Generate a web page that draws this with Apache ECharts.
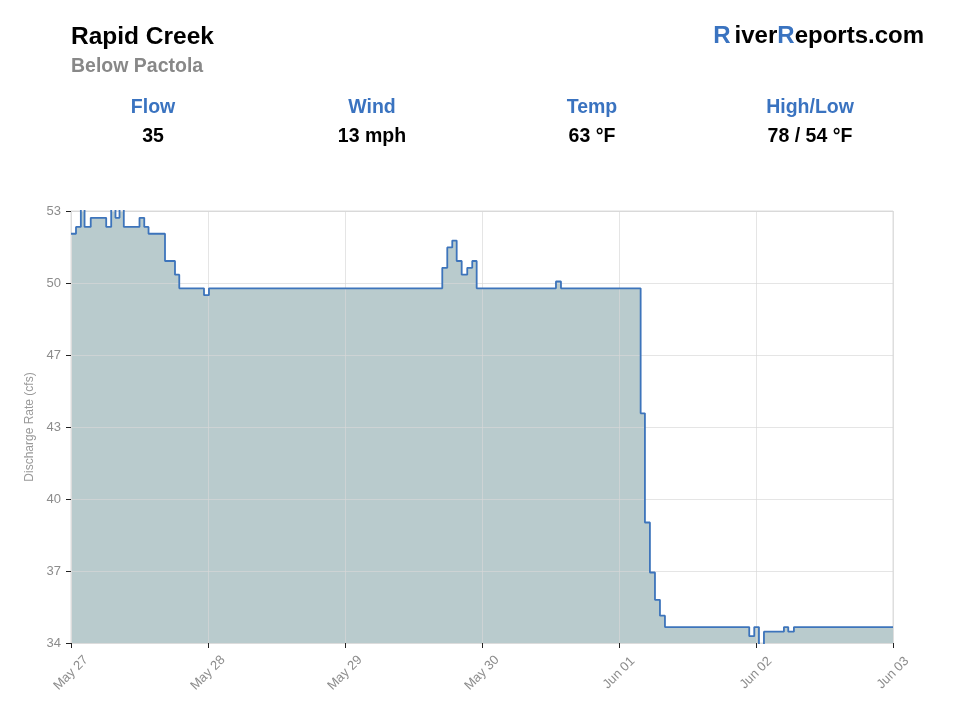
<!DOCTYPE html>
<html>
<head>
<meta charset="utf-8">
<title>Rapid Creek</title>
<script src="https://cdn.jsdelivr.net/npm/echarts@6/dist/echarts.min.js"></script>
<style>
  html, body { margin: 0; padding: 0; background: #fff; }
  #chart { width: 960px; height: 720px; }
</style>
</head>
<body>
<div id="chart"></div>
<script>
// hours since the left edge of the chart, and discharge (cfs) from that moment on
var hours = [0, 1.05, 2.07, 2.85, 4.15, 7.4, 8.45, 9.35, 10.2, 11.1, 14.4, 15.4, 16.3, 19.76, 21.86, 22.76, 27.96, 29.0,
  78.05, 79.1, 80.15, 81.08, 82.13, 83.3, 84.35, 85.28, 101.95, 103.0,
  119.75, 120.65, 121.7, 122.76, 123.81, 124.86, 142.58, 143.63, 144.62, 145.67, 149.87, 150.78, 151.97, 172.8];
var flow = [52.0, 52.3, 53.3, 52.3, 52.7, 52.3, 53.3, 52.7, 53.3, 52.3, 52.7, 52.3, 52.0, 50.8, 50.2, 49.6, 49.3, 49.6,
  50.5, 51.4, 51.7, 50.8, 50.2, 50.5, 50.8, 49.6, 49.9, 49.6,
  44.1, 39.3, 37.1, 35.9, 35.2, 34.7, 34.3, 34.7, 33.9, 34.5, 34.7, 34.5, 34.7, 34.7];

var xLabels = ["May 27", "May 28", "May 29", "May 30", "Jun 01", "Jun 02", "Jun 03"];
var xStep = 28.8;   // hours between the date ticks
var yMin = 34, yMax = 53;

var statNames = ["Flow", "Wind", "Temp", "High/Low"];
var statValues = ["35", "13 mph", "63 °F", "78 / 54 °F"];
var statX = [153, 372, 592, 810];

var blue = '#3a73c0';
var font = '"Liberation Sans", Arial, Helvetica, sans-serif';

var points = [];
for (var i = 0; i < hours.length; i++) {
  points.push([hours[i], flow[i]]);
}

// header texts
var header = [
  { type: 'text', x: 71, y: 37, style: { text: 'Rapid Creek', font: 'bold 24.5px ' + font, fill: '#000', verticalAlign: 'middle' } },
  { type: 'text', x: 71, y: 67, style: { text: 'Below Pactola', font: 'bold 19.5px ' + font, fill: '#888', verticalAlign: 'middle' } },
  { type: 'text', x: 924, y: 36, style: {
      text: '{b|R}{gap|}{k|iver}{b|R}{k|eports.com}',
      align: 'right', verticalAlign: 'middle',
      rich: {
        b: { fontFamily: font, fontWeight: 'bold', fontSize: 24, fill: blue },
        gap: { width: 4 },
        k: { fontFamily: font, fontWeight: 'bold', fontSize: 24, fill: '#000' }
      }
  } }
];
for (var j = 0; j < statNames.length; j++) {
  header.push({ type: 'text', x: statX[j], y: 108, style: { text: statNames[j], font: 'bold 19.5px ' + font, fill: blue, align: 'center', verticalAlign: 'middle' } });
  header.push({ type: 'text', x: statX[j], y: 137, style: { text: statValues[j], font: 'bold 19.5px ' + font, fill: '#000', align: 'center', verticalAlign: 'middle' } });
}

var chart = echarts.init(document.getElementById('chart'));
chart.setOption({
  animation: false,
  textStyle: { fontFamily: font },
  graphic: header,
  grid: { left: 71, right: 67, top: 211, bottom: 77, show: true, borderColor: '#dcdcdc', borderWidth: 1 },
  xAxis: {
    type: 'value',
    min: 0,
    max: xStep * 6,
    interval: xStep,
    z: 3,
    axisLine: { show: true, lineStyle: { color: '#dcdcdc' } },
    axisTick: { show: true, length: 5, lineStyle: { color: '#222' } },
    splitLine: { show: true, lineStyle: { color: 'rgba(215,215,215,0.65)' } },
    axisLabel: {
      rotate: 45, color: '#8c8c8c', fontSize: 13, margin: 30,
      align: 'center', verticalAlign: 'middle',
      formatter: function (v) { return xLabels[Math.round(v / xStep)] || ''; }
    }
  },
  yAxis: {
    type: 'value',
    min: yMin,
    max: yMax,
    interval: (yMax - yMin) / 6,
    z: 3,
    name: 'Discharge Rate (cfs)',
    nameLocation: 'middle',
    nameGap: 34,
    nameTextStyle: { color: '#999', fontSize: 12 },
    axisLine: { show: true, lineStyle: { color: '#dcdcdc' } },
    axisTick: { show: true, length: 5, lineStyle: { color: '#222' } },
    splitLine: { show: true, lineStyle: { color: 'rgba(215,215,215,0.65)' } },
    axisLabel: {
      color: '#8c8c8c', fontSize: 13, margin: 10,
      formatter: function (v) { return Math.round(v - 0.01); }
    }
  },
  series: [
    {
      type: 'line', step: 'end', data: points, symbol: 'none', z: 1,
      lineStyle: { width: 0 },
      areaStyle: { color: '#b9cbcd', opacity: 1, origin: 'start' }
    },
    {
      type: 'line', step: 'end', data: points, symbol: 'none', z: 5,
      lineStyle: { width: 1.8, color: '#3d74bb' }
    }
  ]
});
</script>
</body>
</html>
